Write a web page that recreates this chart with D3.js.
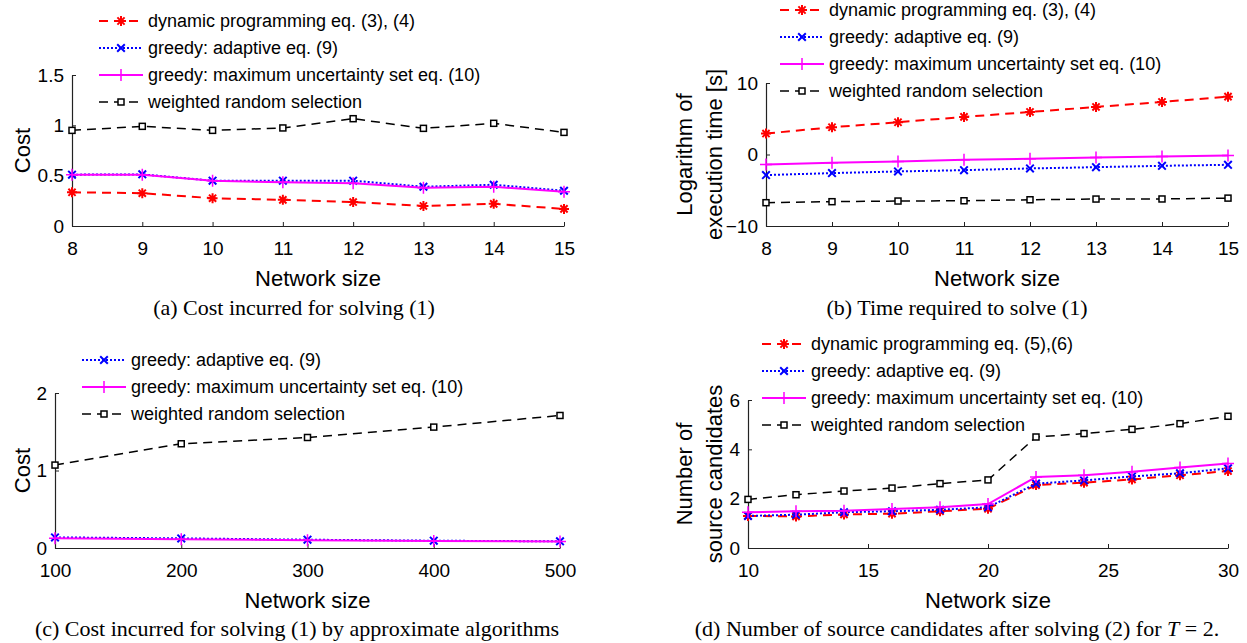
<!DOCTYPE html>
<html>
<head>
<meta charset="utf-8">
<script src="https://cdn.jsdelivr.net/npm/d3@7"></script>
<style>
  body { margin: 0; background: #fff; }
  svg { display: block; }
  .tick text { font-family: "Liberation Sans", Arial, sans-serif; font-size: 19px; fill: #000; }
  .axis-title { font-family: "Liberation Sans", Arial, sans-serif; font-size: 22px; fill: #000; }
  .legend-text { font-family: "Liberation Sans", Arial, sans-serif; font-size: 18px; fill: #000; }
  .caption { font-family: "Liberation Serif", "Times New Roman", serif; font-size: 22px; fill: #000; }
</style>
</head>
<body>
<div id="chart"></div>
<script>
// *** DATA *** //

// (a) cost, exact vs approximate
var sizes_a = [8, 9, 10, 11, 12, 13, 14, 15];
var dp_cost_a = [0.335, 0.326, 0.276, 0.26, 0.238, 0.199, 0.22, 0.17];
var adaptive_cost_a = [0.51, 0.513, 0.45, 0.45, 0.45, 0.39, 0.41, 0.35];
var max_unc_cost_a = [0.51, 0.51, 0.45, 0.434, 0.424, 0.38, 0.39, 0.34];
var random_cost_a = [0.95, 0.99, 0.95, 0.974, 1.066, 0.97, 1.02, 0.93];

// (b) log execution time
var sizes_b = [8, 9, 10, 11, 12, 13, 14, 15];
var dp_time_b = [2.93, 3.81, 4.51, 5.26, 5.95, 6.65, 7.35, 8.09];
var adaptive_time_b = [-2.88, -2.6, -2.37, -2.19, -1.95, -1.77, -1.58, -1.44];
var max_unc_time_b = [-1.4, -1.16, -0.98, -0.74, -0.6, -0.42, -0.28, -0.14];
var random_time_b = [-6.74, -6.6, -6.51, -6.47, -6.33, -6.23, -6.22, -6.1];

// (c) cost, approximate algorithms only
var sizes_c = [100, 200, 300, 400, 500];
var adaptive_cost_c = [0.137, 0.124, 0.107, 0.094, 0.086];
var max_unc_cost_c = [0.125, 0.113, 0.1, 0.09, 0.083];
var random_cost_c = [1.07, 1.345, 1.426, 1.56, 1.71];

// (d) number of source candidates
var sizes_d = [10, 12, 14, 16, 18, 20, 22, 24, 26, 28, 30];
var dp_cand_d = [1.3, 1.28, 1.36, 1.39, 1.49, 1.59, 2.55, 2.65, 2.78, 2.95, 3.12];
var adaptive_cand_d = [1.3, 1.35, 1.45, 1.49, 1.55, 1.65, 2.61, 2.74, 2.9, 3.03, 3.23];
var max_unc_cand_d = [1.45, 1.49, 1.51, 1.58, 1.65, 1.78, 2.88, 2.95, 3.09, 3.26, 3.43];
var random_cand_d = [1.97, 2.16, 2.31, 2.43, 2.61, 2.76, 4.5, 4.64, 4.81, 5.04, 5.34];

// tick values
var x_ticks_a = [8, 9, 10, 11, 12, 13, 14, 15];
var y_ticks_a = [0, 0.5, 1, 1.5];
var x_ticks_b = [8, 9, 10, 11, 12, 13, 14, 15];
var y_ticks_b = [-10, 0, 10];
var x_ticks_c = [100, 200, 300, 400, 500];
var y_ticks_c = [0, 1, 2];
var x_ticks_d = [10, 15, 20, 25, 30];
var y_ticks_d = [0, 2, 4, 6];

// legend labels
var label_dp = "dynamic programming eq. (3), (4)";
var label_dp_d = "dynamic programming eq. (5),(6)";
var label_adaptive = "greedy: adaptive eq. (9)";
var label_max_unc = "greedy: maximum uncertainty set eq. (10)";
var label_random = "weighted random selection";

// ************ //

var create_figure = function() {
  var width = 1247;
  var height = 643;

  var styles = {
    dp: { color: "#ff0000", dash: "9,6", width: 2, marker: "asterisk" },
    adaptive: { color: "#0000ff", dash: "2,2", width: 2, marker: "cross" },
    max_unc: { color: "#ff00ff", dash: null, width: 2, marker: "plus" },
    random: { color: "#000000", dash: "9,6", width: 1.5, marker: "square" }
  };

  var svg = d3.select("#chart").append("svg")
      .attr("width", width)
      .attr("height", height);

  // *** MARKERS *** //

  var draw_marker = function(g, kind, x, y, color) {
    var p;
    if (kind == "asterisk") {
      var r = 5, d = 3.6;
      p = "M" + (x - r) + "," + y + "H" + (x + r) +
          "M" + x + "," + (y - r) + "V" + (y + r) +
          "M" + (x - d) + "," + (y - d) + "L" + (x + d) + "," + (y + d) +
          "M" + (x - d) + "," + (y + d) + "L" + (x + d) + "," + (y - d);
      g.append("path").attr("d", p).attr("stroke", color).attr("stroke-width", 2).attr("fill", "none");
    } else if (kind == "cross") {
      var c = 3.8;
      p = "M" + (x - c) + "," + (y - c) + "L" + (x + c) + "," + (y + c) +
          "M" + (x - c) + "," + (y + c) + "L" + (x + c) + "," + (y - c);
      g.append("path").attr("d", p).attr("stroke", color).attr("stroke-width", 2).attr("fill", "none");
    } else if (kind == "plus") {
      var s = 6;
      p = "M" + (x - s) + "," + y + "H" + (x + s) + "M" + x + "," + (y - s) + "V" + (y + s);
      g.append("path").attr("d", p).attr("stroke", color).attr("stroke-width", 1.5).attr("fill", "none");
    } else if (kind == "square") {
      g.append("rect")
          .attr("x", x - 3).attr("y", y - 3)
          .attr("width", 6).attr("height", 6)
          .attr("fill", "#fff")
          .attr("stroke", color)
          .attr("stroke-width", 1.5);
    }
  };

  // *** PANEL *** //

  var draw_panel = function(cfg) {
    var g = svg.append("g");

    var x = d3.scaleLinear().domain(cfg.x_domain).range([cfg.left, cfg.right]);
    var y = d3.scaleLinear().domain(cfg.y_domain).range([cfg.bottom, cfg.top]);

    var x_axis = g.append("g")
        .attr("transform", "translate(0," + cfg.bottom + ")")
        .call(d3.axisBottom(x).tickValues(cfg.x_ticks).tickFormat(d3.format("")).tickSizeInner(-4).tickSizeOuter(0).tickPadding(16));
    var y_axis = g.append("g")
        .attr("transform", "translate(" + cfg.left + ",0)")
        .call(d3.axisLeft(y).tickValues(cfg.y_ticks).tickFormat(d3.format("")).tickSizeInner(-4).tickSizeOuter(0).tickPadding(8));

    [x_axis, y_axis].forEach(function(a) {
      a.select(".domain").attr("stroke", "#222").attr("stroke-width", 1.2);
      a.selectAll(".tick line").attr("stroke", "#222");
    });

    // series
    cfg.series.forEach(function(s) {
      var st = styles[s.key];
      var pts = s.values.map(function(v, i) { return [x(cfg.sizes[i]), y(v)]; });
      g.append("path")
          .attr("d", d3.line()(pts))
          .attr("fill", "none")
          .attr("stroke", st.color)
          .attr("stroke-width", st.width)
          .attr("stroke-dasharray", st.dash);
      pts.forEach(function(p) { draw_marker(g, st.marker, p[0], p[1], st.color); });
    });

    // axis titles
    g.append("text")
        .attr("class", "axis-title")
        .attr("x", (cfg.left + cfg.right) / 2)
        .attr("y", cfg.bottom + 60)
        .attr("text-anchor", "middle")
        .text("Network size");

    var mid_y = (cfg.top + cfg.bottom) / 2;
    cfg.y_title.forEach(function(line, i) {
      var tx = cfg.y_title_x[i];
      g.append("text")
          .attr("class", "axis-title")
          .attr("transform", "translate(" + tx + "," + mid_y + ") rotate(-90)")
          .attr("text-anchor", "middle")
          .attr("dy", "0.35em")
          .text(line);
    });

    // legend
    cfg.series.forEach(function(s, i) {
      var st = styles[s.key];
      var ly = cfg.legend_y + i * 27;
      g.append("line")
          .attr("x1", cfg.legend_x).attr("x2", cfg.legend_x + 44)
          .attr("y1", ly).attr("y2", ly)
          .attr("stroke", st.color)
          .attr("stroke-width", st.width)
          .attr("stroke-dasharray", st.dash);
      draw_marker(g, st.marker, cfg.legend_x + 22, ly, st.color);
      g.append("text")
          .attr("class", "legend-text")
          .attr("x", cfg.legend_x + 49)
          .attr("y", ly)
          .attr("dy", "0.35em")
          .text(s.label);
    });

    // caption
    var cap = g.append("text")
        .attr("class", "caption")
        .attr("x", cfg.caption_x)
        .attr("y", cfg.caption_y)
        .attr("text-anchor", "middle");
    cfg.caption.forEach(function(part) {
      var t = cap.append("tspan").text(part.text);
      if (part.italic) t.attr("font-style", "italic");
    });
  };

  draw_panel({
    left: 72, right: 564, top: 75, bottom: 226,
    x_domain: [8, 15], y_domain: [0, 1.5],
    x_ticks: x_ticks_a, y_ticks: y_ticks_a,
    sizes: sizes_a,
    series: [
      { key: "dp", values: dp_cost_a, label: label_dp },
      { key: "adaptive", values: adaptive_cost_a, label: label_adaptive },
      { key: "max_unc", values: max_unc_cost_a, label: label_max_unc },
      { key: "random", values: random_cost_a, label: label_random }
    ],
    y_title: ["Cost"], y_title_x: [22],
    legend_x: 99, legend_y: 21,
    caption: [{ text: "(a) Cost incurred for solving (1)" }],
    caption_x: 294, caption_y: 315
  });

  draw_panel({
    left: 766, right: 1228, top: 83, bottom: 226,
    x_domain: [8, 15], y_domain: [-10, 10],
    x_ticks: x_ticks_b, y_ticks: y_ticks_b,
    sizes: sizes_b,
    series: [
      { key: "dp", values: dp_time_b, label: label_dp },
      { key: "adaptive", values: adaptive_time_b, label: label_adaptive },
      { key: "max_unc", values: max_unc_time_b, label: label_max_unc },
      { key: "random", values: random_time_b, label: label_random }
    ],
    y_title: ["Logarithm of", "execution time [s]"], y_title_x: [684, 714],
    legend_x: 780, legend_y: 10,
    caption: [{ text: "(b) Time required to solve (1)" }],
    caption_x: 957, caption_y: 315
  });

  draw_panel({
    left: 55, right: 560, top: 393, bottom: 548,
    x_domain: [100, 500], y_domain: [0, 2],
    x_ticks: x_ticks_c, y_ticks: y_ticks_c,
    sizes: sizes_c,
    series: [
      { key: "adaptive", values: adaptive_cost_c, label: label_adaptive },
      { key: "max_unc", values: max_unc_cost_c, label: label_max_unc },
      { key: "random", values: random_cost_c, label: label_random }
    ],
    y_title: ["Cost"], y_title_x: [22],
    legend_x: 82, legend_y: 360,
    caption: [{ text: "(c) Cost incurred for solving (1) by approximate algorithms" }],
    caption_x: 297, caption_y: 636
  });

  draw_panel({
    left: 748, right: 1228, top: 400, bottom: 548,
    x_domain: [10, 30], y_domain: [0, 6],
    x_ticks: x_ticks_d, y_ticks: y_ticks_d,
    sizes: sizes_d,
    series: [
      { key: "dp", values: dp_cand_d, label: label_dp_d },
      { key: "adaptive", values: adaptive_cand_d, label: label_adaptive },
      { key: "max_unc", values: max_unc_cand_d, label: label_max_unc },
      { key: "random", values: random_cand_d, label: label_random }
    ],
    y_title: ["Number of", "source candidates"], y_title_x: [684, 714],
    legend_x: 762, legend_y: 344,
    caption: [
      { text: "(d) Number of source candidates after solving (2) for " },
      { text: "T", italic: true },
      { text: " = 2." }
    ],
    caption_x: 957, caption_y: 636
  });
};

create_figure();
</script>
</body>
</html>
